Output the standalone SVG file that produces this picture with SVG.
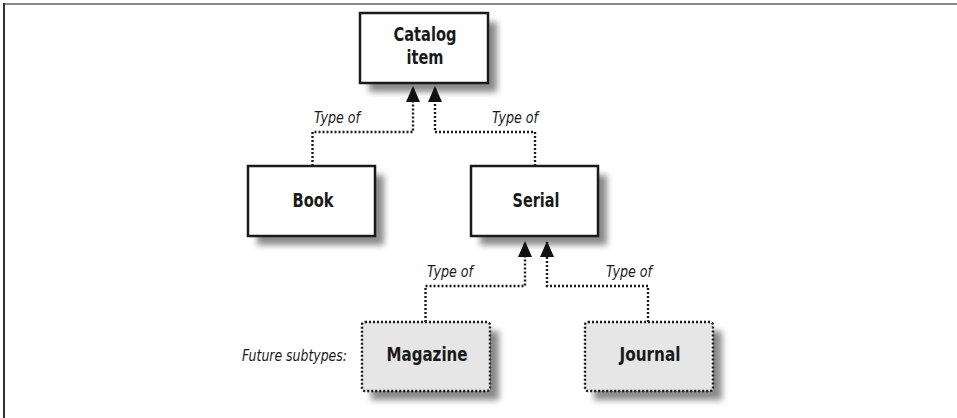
<svg xmlns="http://www.w3.org/2000/svg" width="957" height="418" viewBox="0 0 957 418">
<defs>
<filter id="sh" x="-20%" y="-20%" width="150%" height="150%"><feGaussianBlur stdDeviation="3"/></filter>
<marker id="ah" viewBox="0 0 16 14" refX="15" refY="7" markerWidth="16" markerHeight="14" markerUnits="userSpaceOnUse" orient="auto">
<path d="M0,0 L16,7 L0,14 Z" fill="#111"/>
</marker>
</defs>
<style>
.shadow{fill:#8a8a8a;filter:url(#sh)}
.box{fill:#fff;stroke:#1a1a1a;stroke-width:2.5}
.fbox{fill:#e6e6e6;stroke:#1a1a1a;stroke-width:2.4;stroke-dasharray:2 2}
.lbl{font-family:"DejaVu Sans Condensed","DejaVu Sans","Liberation Sans",sans-serif;font-stretch:condensed;font-weight:bold;font-size:20px;fill:#1a1a1a;text-anchor:middle}
.it{font-family:"DejaVu Sans Condensed","DejaVu Sans","Liberation Sans",sans-serif;font-stretch:condensed;font-style:italic;font-size:16px;fill:#1a1a1a}
.con{fill:none;stroke:#1a1a1a;stroke-width:2.4;stroke-dasharray:2 2}
</style>
<rect width="957" height="418" fill="#fff"/>
<line x1="3" y1="4" x2="957" y2="4" stroke="#888" stroke-width="2"/>
<line x1="4" y1="3" x2="4" y2="418" stroke="#333" stroke-width="2"/>

<g id="catalog">
<rect class="shadow" x="369" y="22" width="128" height="70"/>
<rect class="box" x="360" y="13" width="128" height="70"/>
<text class="lbl" x="425" y="41" textLength="63" lengthAdjust="spacingAndGlyphs">Catalog</text>
<text class="lbl" x="425" y="64" textLength="37" lengthAdjust="spacingAndGlyphs">item</text>
</g>
<g id="book">
<rect class="shadow" x="257" y="175" width="127" height="70"/>
<rect class="box" x="248" y="166" width="127" height="70"/>
<text class="lbl" x="313" y="207" textLength="41" lengthAdjust="spacingAndGlyphs">Book</text>
</g>
<g id="serial">
<rect class="shadow" x="480" y="175" width="127" height="70"/>
<rect class="box" x="471" y="166" width="127" height="70"/>
<text class="lbl" x="536" y="207" textLength="47" lengthAdjust="spacingAndGlyphs">Serial</text>
</g>
<g id="magazine">
<rect class="shadow" x="371" y="331" width="128" height="69"/>
<rect class="fbox" x="362" y="322" width="128" height="69" rx="3"/>
<text class="lbl" x="427" y="361" textLength="81" lengthAdjust="spacingAndGlyphs">Magazine</text>
</g>
<g id="journal">
<rect class="shadow" x="594" y="331" width="128" height="69"/>
<rect class="fbox" x="585" y="322" width="128" height="69" rx="3"/>
<text class="lbl" x="650" y="361" textLength="61" lengthAdjust="spacingAndGlyphs">Journal</text>
</g>

<g id="connectors">
<polyline class="con" points="312.5,166 312.5,132 413,132 413,87" marker-end="url(#ah)"/>
<polyline class="con" points="535,166 535,132 435,132 435,87" marker-end="url(#ah)"/>
<polyline class="con" points="425.5,322 425.5,286 525,286 525,242" marker-end="url(#ah)"/>
<polyline class="con" points="648,322 648,286 547,286 547,242" marker-end="url(#ah)"/>
<text class="it" x="314" y="123" textLength="46" lengthAdjust="spacingAndGlyphs">Type of</text>
<text class="it" x="492" y="123" textLength="46" lengthAdjust="spacingAndGlyphs">Type of</text>
<text class="it" x="427" y="277" textLength="46" lengthAdjust="spacingAndGlyphs">Type of</text>
<text class="it" x="606" y="277" textLength="46" lengthAdjust="spacingAndGlyphs">Type of</text>
</g>
<text class="it" x="242" y="361" textLength="105" lengthAdjust="spacingAndGlyphs">Future subtypes:</text>
</svg>
